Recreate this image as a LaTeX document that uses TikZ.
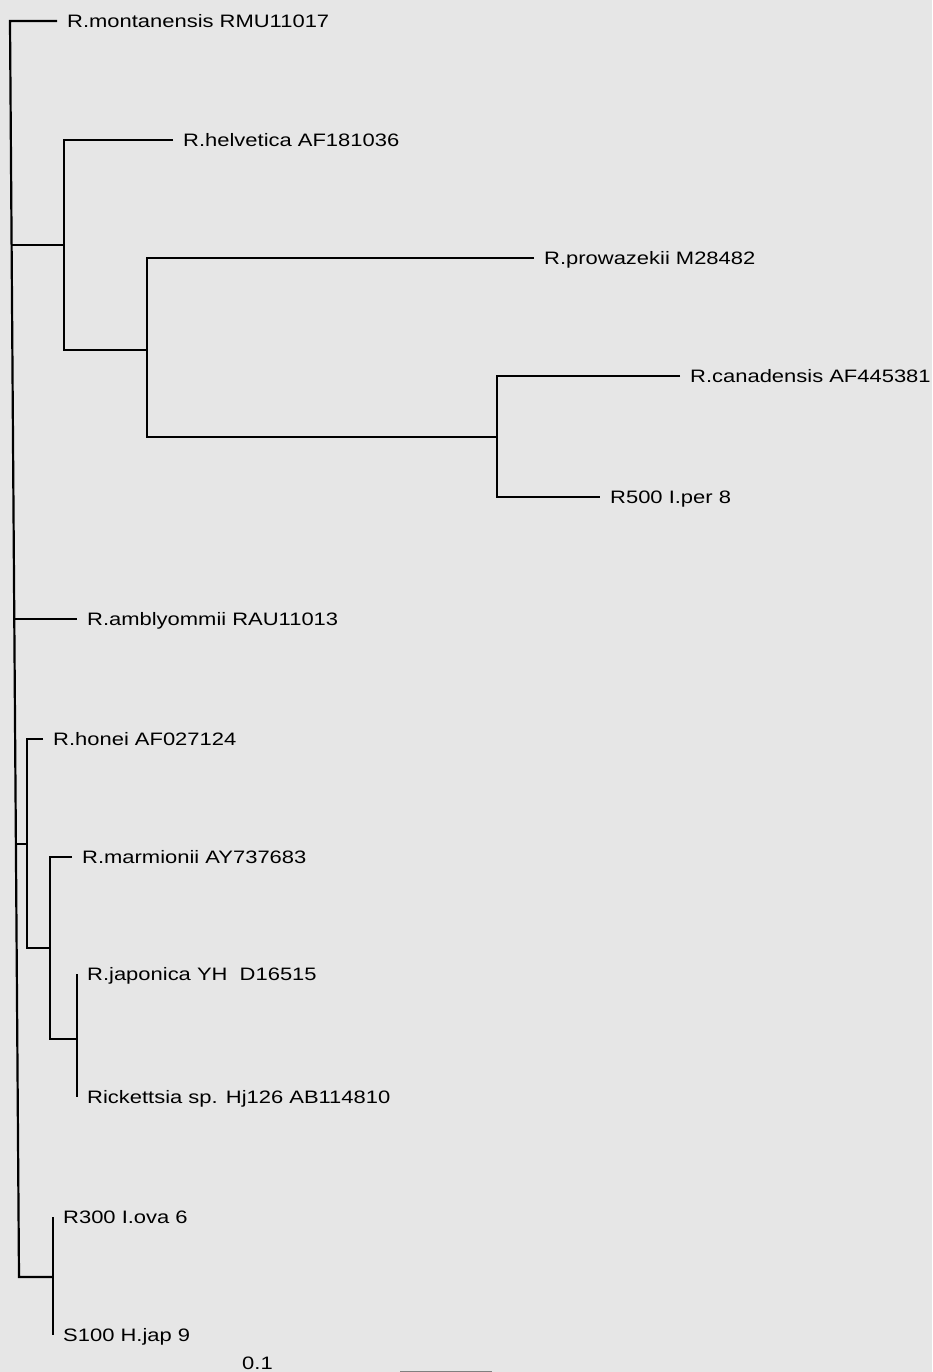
\documentclass[tikz,border=0pt]{standalone}
\usepackage{fontspec}
\setmainfont{Liberation Sans}[FakeStretch=1.22]
\definecolor{paper}{RGB}{230,230,230}
\tikzset{
  br/.style={line width=2.2pt},
  taxon/.style={anchor=base west,inner sep=0pt,xshift=10pt,yshift=-6.5pt,font=\fontsize{18}{20}\selectfont},
  scaletext/.style={anchor=base west,inner sep=0pt,font=\fontsize{18}{20}\selectfont}
}
\begin{document}
\begin{tikzpicture}[x=1pt,y=-1pt]
\useasboundingbox[fill=paper] (0,0) rectangle (932,1372);
% inner nodes
\coordinate (rt) at (10,21);
\coordinate (rb) at (19,1277);
\coordinate (r1) at (11.6,245);
\coordinate (r2) at (14.3,619);
\coordinate (r3) at (15.9,844);
\coordinate (nh) at (64,245);
\coordinate (np) at (147,350);
\coordinate (nc) at (497,437);
\coordinate (no) at (27,844);
\coordinate (nm) at (50,948);
\coordinate (nj) at (77,1039);
\coordinate (ns) at (53,1277);
% tips
\coordinate (tmon) at (57,21);
\coordinate (thel) at (173,140);
\coordinate (tpro) at (534,258);
\coordinate (tcan) at (680,376);
\coordinate (tper) at (600,497);
\coordinate (tamb) at (77,619);
\coordinate (thon) at (43,739);
\coordinate (tmar) at (72,857);
\coordinate (tjap) at (77,974);
\coordinate (tric) at (77,1097);
\coordinate (tova) at (53,1217);
\coordinate (tjp9) at (53,1335);
% labels
\node[taxon] (lmon) at (tmon) {R.montanensis RMU11017};
\node[taxon] (lhel) at (thel) {R.helvetica AF181036};
\node[taxon] (lpro) at (tpro) {R.prowazekii M28482};
\node[taxon] (lcan) at (tcan) {R.canadensis AF445381};
\node[taxon] (lper) at (tper) {R500 I.per 8};
\node[taxon] (lamb) at (tamb) {R.amblyommii RAU11013};
\node[taxon] (lhon) at (thon) {R.honei AF027124};
\node[taxon] (lmar) at (tmar) {R.marmionii AY737683};
\node[taxon] (ljap) at (tjap) {R.japonica YH\ \ D16515};
\node[taxon] (lric) at (tric) {Rickettsia sp. Hj126 AB114810};
\node[taxon] (lova) at (tova) {R300 I.ova 6};
\node[taxon] (ljp9) at (tjp9) {S100 H.jap 9};
% branches
\draw[br] (tmon) -- (rt) -- (rb) -- (ns);
\draw[br] (r1) -- (nh);
\draw[br] (thel) -| (nh) |- (np);
\draw[br] (tpro) -| (np) |- (nc);
\draw[br] (tcan) -| (nc) |- (tper);
\draw[br] (r2) -- (tamb);
\draw[br] (r3) -- (no);
\draw[br] (thon) -| (no) |- (nm);
\draw[br] (tmar) -| (nm) |- (nj);
\draw[br] (tjap) -- (nj) -- (tric);
\draw[br] (tova) -- (ns) -- (tjp9);
% scale bar
\coordinate (sbl) at (400,1372);
\coordinate (sbr) at (492,1372);
\node[scaletext] (sc) at (242,1369) {0.1};
\draw[line width=3pt,gray] (sbl) -- (sbr);
\end{tikzpicture}
\end{document}
